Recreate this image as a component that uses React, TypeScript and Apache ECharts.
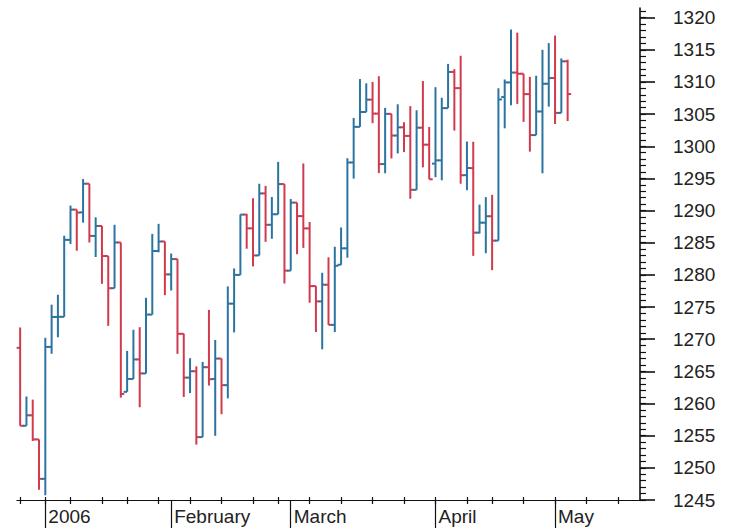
import React, { useEffect, useRef } from "react";
import * as echarts from "echarts";

const dates = [
  "2005-12-27", "2005-12-28", "2005-12-29", "2005-12-30",
  "2006-01-03", "2006-01-04", "2006-01-05", "2006-01-06", "2006-01-09", "2006-01-10",
  "2006-01-11", "2006-01-12", "2006-01-13", "2006-01-17", "2006-01-18", "2006-01-19",
  "2006-01-20", "2006-01-23", "2006-01-24", "2006-01-25", "2006-01-26", "2006-01-27",
  "2006-01-30", "2006-01-31",
  "2006-02-01", "2006-02-02", "2006-02-03", "2006-02-06", "2006-02-07", "2006-02-08",
  "2006-02-09", "2006-02-10", "2006-02-13", "2006-02-14", "2006-02-15", "2006-02-16",
  "2006-02-17", "2006-02-21", "2006-02-22", "2006-02-23", "2006-02-24", "2006-02-27",
  "2006-02-28",
  "2006-03-01", "2006-03-02", "2006-03-03", "2006-03-06", "2006-03-07", "2006-03-08",
  "2006-03-09", "2006-03-10", "2006-03-13", "2006-03-14", "2006-03-15", "2006-03-16",
  "2006-03-17", "2006-03-20", "2006-03-21", "2006-03-22", "2006-03-23", "2006-03-24",
  "2006-03-27", "2006-03-28", "2006-03-29", "2006-03-30", "2006-03-31",
  "2006-04-03", "2006-04-04", "2006-04-05", "2006-04-06", "2006-04-07", "2006-04-10",
  "2006-04-11", "2006-04-12", "2006-04-13", "2006-04-17", "2006-04-18", "2006-04-19",
  "2006-04-20", "2006-04-21", "2006-04-24", "2006-04-25", "2006-04-26", "2006-04-27",
  "2006-04-28",
  "2006-05-01", "2006-05-02", "2006-05-03",
];

// empty trading days shown on the axis to the right of the last bar
const futureDates = [
  "2006-05-04", "2006-05-05", "2006-05-08", "2006-05-09", "2006-05-10", "2006-05-11",
  "2006-05-12", "2006-05-15", "2006-05-16", "2006-05-17", "2006-05-18",
];

const opens = [
  1268.66, 1256.54, 1258.17, 1254.42,
  1248.29, 1268.8, 1273.46, 1273.48, 1285.45, 1290.15, 1289.72, 1294.18, 1286.06, 1287.61,
  1282.93, 1277.93, 1285.04, 1261.82, 1263.82, 1266.86, 1264.68, 1273.83, 1283.72, 1285.2,
  1280.08, 1282.46, 1270.84, 1264.03, 1265.02, 1254.78, 1265.65, 1263.82, 1266.99, 1262.86,
  1275.53, 1280.0, 1289.38, 1287.24, 1283.03, 1292.67, 1287.79, 1289.43, 1294.12,
  1280.66, 1291.24, 1289.14, 1287.23, 1278.26, 1275.88, 1278.47, 1272.23, 1281.58, 1284.13,
  1297.48, 1303.02, 1305.33, 1307.25, 1305.08, 1297.23, 1305.04, 1301.67, 1302.95, 1301.61,
  1293.23, 1302.89, 1300.25,
  1297.3, 1297.81, 1305.93, 1311.56, 1309.04, 1295.51, 1296.6, 1286.57, 1288.12, 1289.12,
  1285.33, 1307.65, 1309.93, 1311.46, 1311.28, 1308.11, 1301.74, 1305.41, 1309.72,
  1310.61, 1305.19, 1313.21,
];

const highs = [
  1271.83, 1261.1, 1260.61, 1254.42,
  1270.22, 1275.37, 1276.91, 1286.09, 1290.78, 1290.15, 1294.9, 1294.18, 1288.96, 1287.61,
  1282.93, 1287.79, 1285.04, 1268.19, 1271.47, 1271.87, 1276.44, 1286.38, 1287.94, 1285.2,
  1283.33, 1282.46, 1270.87, 1267.04, 1265.78, 1266.47, 1274.56, 1269.89, 1266.99, 1278.21,
  1281.0, 1289.39, 1289.47, 1291.92, 1294.17, 1293.84, 1292.11, 1297.57, 1294.12,
  1291.8, 1291.24, 1297.33, 1288.23, 1278.26, 1280.33, 1282.74, 1284.37, 1287.37, 1298.14,
  1304.4, 1310.45, 1309.79, 1310.0, 1310.88, 1305.97, 1305.04, 1306.53, 1303.74, 1306.24,
  1305.6, 1310.15, 1303.0,
  1309.19, 1307.55, 1312.81, 1311.99, 1314.07, 1300.74, 1300.71, 1290.93, 1292.09, 1292.45,
  1309.02, 1310.39, 1318.16, 1317.67, 1311.28, 1310.79, 1310.97, 1315.0, 1316.04,
  1317.21, 1313.66, 1313.47,
];

const lows = [
  1256.54, 1256.54, 1254.18, 1246.59,
  1245.74, 1267.74, 1270.3, 1273.48, 1284.82, 1283.76, 1288.12, 1285.04, 1282.78, 1278.61,
  1272.08, 1277.93, 1260.92, 1261.82, 1263.82, 1259.42, 1264.68, 1273.83, 1283.51, 1276.85,
  1277.57, 1267.72, 1261.02, 1261.62, 1253.61, 1254.78, 1262.8, 1254.98, 1258.34, 1260.8,
  1271.06, 1280.0, 1284.07, 1281.33, 1283.03, 1285.14, 1285.62, 1289.43, 1278.66,
  1280.66, 1283.21, 1284.2, 1275.67, 1271.11, 1268.42, 1272.23, 1271.11, 1281.58, 1282.67,
  1294.97, 1303.02, 1305.32, 1303.59, 1295.82, 1295.81, 1298.11, 1298.89, 1299.09, 1291.84,
  1293.23, 1296.72, 1294.87,
  1295.2, 1294.71, 1305.93, 1302.44, 1294.18, 1293.17, 1282.96, 1286.45, 1283.37, 1280.74,
  1285.33, 1302.79, 1306.38, 1306.59, 1303.79, 1299.17, 1301.74, 1295.8, 1306.16,
  1303.46, 1305.19, 1303.92,
];

const closes = [
  1256.54, 1258.17, 1254.42, 1248.29,
  1268.8, 1273.46, 1273.48, 1285.45, 1290.15, 1289.69, 1294.18, 1286.06, 1287.61, 1282.93,
  1277.93, 1285.04, 1261.49, 1263.82, 1266.86, 1264.68, 1273.83, 1283.72, 1285.19, 1280.08,
  1282.46, 1270.84, 1264.03, 1265.02, 1254.78, 1265.65, 1263.78, 1266.99, 1262.86, 1275.53,
  1280.0, 1289.38, 1287.24, 1283.03, 1292.67, 1287.79, 1289.43, 1294.12, 1280.66,
  1291.24, 1289.14, 1287.23, 1278.26, 1275.88, 1278.47, 1272.23, 1281.42, 1284.13, 1297.48,
  1303.02, 1305.33, 1307.25, 1305.08, 1297.23, 1305.04, 1301.67, 1302.95, 1301.61, 1293.23,
  1302.89, 1300.25, 1294.87,
  1297.81, 1305.93, 1311.56, 1309.04, 1295.5, 1296.62, 1286.57, 1288.12, 1289.12, 1285.33,
  1307.28, 1309.93, 1311.46, 1311.28, 1308.11, 1301.74, 1305.41, 1309.72, 1310.61,
  1305.19, 1313.21, 1308.12,
];

const yTickLabels = [
  1245, 1250, 1255, 1260, 1265, 1270, 1275, 1280, 1285, 1290, 1295, 1300, 1305, 1310, 1315, 1320,
];
const monthNames = [
  "January", "February", "March", "April", "May", "June",
  "July", "August", "September", "October", "November", "December",
];

const Y_MIN = 1245;
const Y_MAX = 1321.5;
const UP_COLOR = "#2c74a0";
const DOWN_COLOR = "#d03a4e";

export default function App() {
  const ref = useRef<HTMLDivElement>(null);

  useEffect(() => {
    if (!ref.current) return;
    const chart = echarts.init(ref.current, undefined, { renderer: "svg" });

    const categories = dates.concat(futureDates);
    const parsed = categories.map((d) => {
      const [y, m, dd] = d.split("-").map(Number);
      return { y, m, dow: new Date(Date.UTC(y, m - 1, dd)).getUTCDay() };
    });
    const isWeekStart = (i: number) => i === 0 || parsed[i].dow < parsed[i - 1].dow;
    const isMonthStart = (i: number) => i > 0 && parsed[i].m !== parsed[i - 1].m;
    const labelFor = (i: number) => {
      if (!isMonthStart(i)) return "";
      if (parsed[i].y !== parsed[i - 1].y) return String(parsed[i].y);
      return monthNames[parsed[i].m - 1];
    };

    const minorTicks: number[] = [];
    for (let v = Y_MIN; v <= Y_MAX; v += 1) minorTicks.push(v);

    const data = dates.map((_, i) => [i, opens[i], closes[i], lows[i], highs[i]]);
    const axisColor = "#111";
    const font = "Liberation Sans";

    const option: any = {
      animation: false,
      backgroundColor: "#ffffff",
      grid: { left: 17, right: 92, top: 8, bottom: 30, containLabel: false },
      xAxis: [
        {
          type: "category",
          data: categories,
          position: "bottom",
          boundaryGap: true,
          axisLine: { show: true, lineStyle: { color: axisColor, width: 1.2 } },
          axisTick: {
            show: true,
            alignWithLabel: true,
            interval: (i: number) => isWeekStart(i),
            length: 4,
            lineStyle: { color: axisColor, width: 1.2 },
          },
          axisLabel: { show: false },
          splitLine: { show: false },
        },
        {
          type: "category",
          data: categories,
          position: "bottom",
          boundaryGap: true,
          axisLine: { show: false },
          axisTick: {
            show: true,
            inside: true,
            alignWithLabel: true,
            interval: (i: number) => isWeekStart(i),
            length: 3,
            lineStyle: { color: axisColor, width: 1.2 },
          },
          axisLabel: { show: false },
          splitLine: { show: false },
        },
        {
          type: "category",
          data: categories,
          position: "bottom",
          boundaryGap: true,
          axisLine: { show: false },
          axisTick: {
            show: true,
            alignWithLabel: true,
            interval: (i: number) => isMonthStart(i),
            length: 28,
            lineStyle: { color: axisColor, width: 1.2 },
          },
          axisLabel: {
            show: true,
            interval: (i: number) => isMonthStart(i),
            formatter: (_v: string, i: number) => labelFor(i),
            align: "left",
            margin: 7,
            padding: [0, 0, 0, 3],
            fontSize: 19,
            fontFamily: font,
            color: "#222",
          },
          splitLine: { show: false },
        },
      ],
      yAxis: [
        {
          type: "value",
          position: "right",
          min: Y_MIN,
          max: Y_MAX,
          axisLine: { show: true, lineStyle: { color: axisColor, width: 1.6 } },
          axisTick: {
            show: true,
            customValues: yTickLabels,
            length: 15,
            lineStyle: { color: axisColor, width: 1.6 },
          },
          axisLabel: {
            show: true,
            customValues: yTickLabels,
            formatter: (v: number) => String(Math.round(v)),
            margin: 33,
            fontSize: 19,
            fontFamily: font,
            color: "#222",
          },
          splitLine: { show: false },
        },
        {
          type: "value",
          position: "right",
          min: Y_MIN,
          max: Y_MAX,
          axisLine: { show: false },
          axisTick: {
            show: true,
            customValues: minorTicks,
            length: 6,
            lineStyle: { color: axisColor, width: 1.2 },
          },
          axisLabel: { show: false },
          splitLine: { show: false },
        },
      ],
      series: [
        {
          type: "custom",
          xAxisIndex: 0,
          yAxisIndex: 0,
          encode: { x: 0, y: [1, 2, 3, 4] },
          data,
          clip: false,
          renderItem: (_params: any, api: any) => {
            const x = api.value(0);
            const o = api.value(1);
            const c = api.value(2);
            const l = api.value(3);
            const h = api.value(4);
            const pH = api.coord([x, h]);
            const pL = api.coord([x, l]);
            const pO = api.coord([x, o]);
            const pC = api.coord([x, c]);
            const color = c >= o ? UP_COLOR : DOWN_COLOR;
            const t = 3.5;
            const style = { stroke: color, lineWidth: 2 };
            return {
              type: "group",
              children: [
                { type: "line", shape: { x1: pH[0], y1: pH[1], x2: pL[0], y2: pL[1] }, style },
                { type: "line", shape: { x1: pO[0] - t, y1: pO[1], x2: pO[0], y2: pO[1] }, style },
                { type: "line", shape: { x1: pC[0], y1: pC[1], x2: pC[0] + t, y2: pC[1] }, style },
              ],
            };
          },
        },
      ],
    };

    chart.setOption(option);
    return () => chart.dispose();
  }, []);

  return (
    <div
      ref={ref}
      style={{ position: "fixed", left: 0, top: 0, width: 732, height: 530, background: "#fff" }}
    />
  );
}
